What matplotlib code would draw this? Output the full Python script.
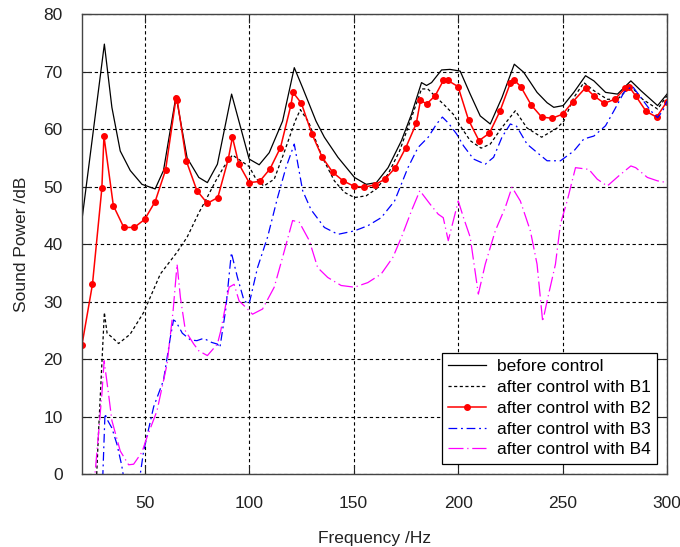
import matplotlib
matplotlib.use('Agg')
import matplotlib.pyplot as plt

plt.rcParams['font.family'] = ['Liberation Sans', 'DejaVu Sans']

# before control
freqBefore = [20, 30.7, 34.3, 38.3, 43.1, 48.7, 55, 59, 65, 70.3, 75.9, 80, 84.8, 91.6, 100,
              104.8, 109.6, 116, 121.6, 125.6, 132, 136, 142.5, 150.4, 156, 160.9, 166.5,
              172.9, 177.7, 182.5, 184.9, 187.3, 192.1, 196.1, 201, 205.8, 210.6, 215.4,
              221, 226.9, 231.4, 237.8, 242.6, 245.8, 250.3, 255.4, 261, 265, 270.6, 276.3,
              282.7, 287.5, 295.5, 300]
before = [44.3, 74.8, 63.8, 56.2, 52.8, 50.4, 49.6, 52.8, 65.8, 55, 51.6, 50.7, 53.9, 66.1, 54.8,
          53.8, 55.9, 61.4, 70.7, 67.2, 61.4, 58.6, 55.1, 51.6, 50.4, 50.7, 53.3,
          58, 62.6, 68.1, 67.6, 68.1, 70.3, 70.4, 70.1, 66.1, 62.3, 60.9,
          65.5, 71.3, 69.9, 66.4, 64.6, 63.8, 64.1, 66.4, 69.3, 68.4, 66.4, 66.1,
          68.4, 66.7, 64.1, 66.1]

# after control with B1
freqB1 = [26.8, 28, 30.7, 32, 34.3, 37.5, 43, 49.5, 57.5, 65.5, 70.3, 76, 79, 84, 88, 92, 96,
          100, 103, 107, 112, 117, 122, 124.5, 128.5, 135, 140.8, 145.6, 150.4, 156, 160.9,
          166.5, 172, 177.7, 182.5, 185.5, 189.7, 193.7, 197.7, 201, 205.8, 211, 215.4, 221,
          227.4, 233, 240, 247.4, 250.6, 255.4, 260.2, 265, 271.4, 276.3, 282.7, 288.3,
          295.5, 300]
b1 = [-2, 8, 28.1, 24.5, 23.8, 22.7, 24.3, 28.1, 34.8, 38.6, 41.2, 45.5, 47.5, 51, 53.5, 55.5, 54.5,
      53.5, 51.5, 50.1, 51.3, 56.2, 61.4, 63.4, 61.2, 55.1, 51, 49, 48.1, 48.4, 49.6,
      52.2, 56.2, 62, 67, 67, 65.5, 64.1, 62.6, 60.6, 58, 56.7, 57.4, 60.3,
      63.2, 60.2, 58.6, 60.2, 61.4, 65.5, 68.1, 66.7, 65.2, 65.2, 67.5, 65.2,
      63.5, 65.8]

# after control with B2 (marked points)
freqB2 = [20, 25, 29.5, 30.5, 35, 40, 45, 50, 55, 60, 65, 65.6, 70, 75, 80, 85, 90, 92, 95, 100,
          105, 110, 115, 120, 121, 125, 130, 135, 140, 145, 150, 155, 160, 165, 170, 175,
          180, 182, 185, 189, 193, 195, 200, 205, 210, 215, 220, 225, 227, 230, 235, 240,
          245, 250, 255, 261, 265, 270, 275, 280, 282, 285, 290, 295, 300]
b2 = [22.5, 33, 49.7, 58.8, 46.7, 42.9, 42.9, 44.3, 47.4, 52.9, 65.4, 65, 54.4, 49.3, 47.1, 48.1,
      54.8, 58.6, 54, 50.7, 50.9, 53.1, 56.8, 64.2, 66.4, 64.5, 59.2, 55.1, 52.5, 51,
      50.1, 49.9, 50.3, 51.3, 53.3, 56.8, 61, 65, 64.4, 65.8, 68.5, 68.5, 67.4, 61.6,
      58, 59.3, 63.1, 68, 68.5, 67.4, 64.2, 62.1, 61.9, 62.6, 64.8, 67.2, 65.8, 64.5,
      65.2, 67.1, 67.3, 65.8, 63.1, 62.1, 64.8]

# after control with B3
freqB3 = [29.6, 31, 32, 34.3, 36.7, 39, 41, 46, 47.9, 49.5, 54.3, 59, 62.3, 63.8, 65, 68, 72,
          75, 78.2, 82, 84.8, 86, 88.7, 91.5, 92.5, 94.4, 97.6, 100, 104, 108.8, 113.6,
          117.6, 121.6, 125.6, 129.6, 136, 142.5, 150.4, 156.8, 163.2, 169.6, 176, 180.8,
          185.7, 189.7, 192.5, 195.5, 199.4, 202.6, 207.4, 213, 217, 221, 225, 228, 233,
          238.6, 242.6, 249, 255.4, 260.2, 265, 270.6, 274.6, 279.4, 283.4, 287.5, 292.2,
          295.5, 298, 300]
b3 = [-4, 10.5, 9.5, 8, 5.2, 1.5, -3, -3, 0, 4, 11.7, 16.3, 23.8, 26.8, 26.5, 24.5, 23.3,
      23.2, 23.6, 22.9, 22.6, 22, 28.4, 38.5, 37, 34.2, 30.1, 29.6, 35.9, 41.2, 48.1,
      53.3, 57.4, 49.3, 46, 42.9, 41.7, 42.3, 43.2, 44.6, 47.5, 53.3, 56.8,
      58.6, 60.9, 62.1, 61, 59.1, 57.1, 54.8, 53.9, 55.1, 58.6, 60.9, 60.5, 57.4,
      55.7, 54.5, 54.5, 56.2, 58.3, 58.8, 60.6, 63.2, 66.4, 67.5, 65.5, 63.2,
      62, 63.2, 64.9]

# after control with B4
freqB4 = [25.5, 27.9, 29.5, 30.6, 32.7, 34.3, 38.3, 42.3, 44.7, 48.7, 51.1, 55.9, 60.7, 63.6,
          65.5, 67.1, 69.5, 73.5, 76, 80, 84.8, 86.4, 90.4, 92.8, 95.2, 98.4, 101.6, 106.4,
          112, 116, 120.8, 124, 128.8, 132.8, 137.6, 144, 150.4, 156.8, 163.2, 168.8,
          172.9, 177.7, 181.7, 186.5, 190.5, 192.9, 195.3, 200.1, 202.6, 205.8, 209.7,
          213, 217.8, 222.6, 225.8, 229.8, 234.6, 237.8, 240.5, 242.6, 246.6, 249, 252.2,
          256.2, 262.6, 266.6, 271.4, 277, 282.7, 285, 290.6, 295.5, 300]
b4 = [-3, 7, 13.9, 19.7, 13.9, 9.3, 4, 1.6, 1.7, 3.8, 6.4, 11, 19.1, 28.4,
      36.5, 30.7, 24.9, 22.6, 21.4, 20.6, 22.6, 24.9, 32.5, 33, 30.1, 29, 27.8, 28.7,
      32.5, 37.7, 44.1, 43.8, 40.6, 35.9, 34.2, 32.8, 32.5, 33.3, 34.8, 37.7,
      41.2, 45.8, 49.3, 47, 45.2, 44.6, 40.6, 47.5, 44.6, 41.2, 31.3,
      36.5, 42.3, 46.4, 49.9, 47.5, 42.3, 36.5, 26.5, 30.1, 36.5, 43.5, 47.5,
      53.3, 53, 51.3, 50.1, 51.9, 53.6, 53.3, 51.6, 51, 50.7]

xTicks = [50, 100, 150, 200, 250, 300]
yTicks = [0, 10, 20, 30, 40, 50, 60, 70, 80]

fig = plt.figure(figsize=(6.8, 5.47), dpi=100)
ax = fig.add_axes([0.1206, 0.1335, 0.8603, 0.8405])

ax.plot(freqBefore, before, color='black', lw=0.9, label='before control')
ax.plot(freqB1, b1, color='black', lw=0.9, ls=(0, (2.5, 2)), label='after control with B1')
ax.plot(freqB2, b2, color='red', lw=1.1, marker='o', ms=4, label='after control with B2')
ax.plot(freqB3, b3, color='blue', lw=0.9, ls=(0, (7, 3, 1.5, 3)), label='after control with B3')
ax.plot(freqB4, b4, color='magenta', lw=0.9, ls=(0, (12, 3, 1, 3)), label='after control with B4')

ax.set_xlim(20, 300)
ax.set_ylim(0, 80)
ax.set_xticks(xTicks)
ax.set_yticks(yTicks)
ax.grid(True, color='black', lw=0.8, ls=(0, (3, 2.5)))
ax.tick_params(direction='in', length=6.5, top=True, right=True, labelsize=12.5, pad=14,
               colors='#222222')
ax.tick_params(axis='x', pad=16)
for s in ax.spines.values():
    s.set_color('#444444')
    s.set_linewidth(1)

ax.set_xlabel('Frequency /Hz', fontsize=12.5, color='#222222', labelpad=14)
ax.set_ylabel('Sound Power /dB', fontsize=12.5, color='#222222', labelpad=10)

leg = ax.legend(loc='lower right', fontsize=12.5, fancybox=False, framealpha=1,
                edgecolor='black', borderaxespad=0.6, labelspacing=0.33,
                handlelength=2.2, handletextpad=0.6, borderpad=0.35)
leg.get_frame().set_linewidth(0.9)

fig.savefig('out.png', dpi=100)
